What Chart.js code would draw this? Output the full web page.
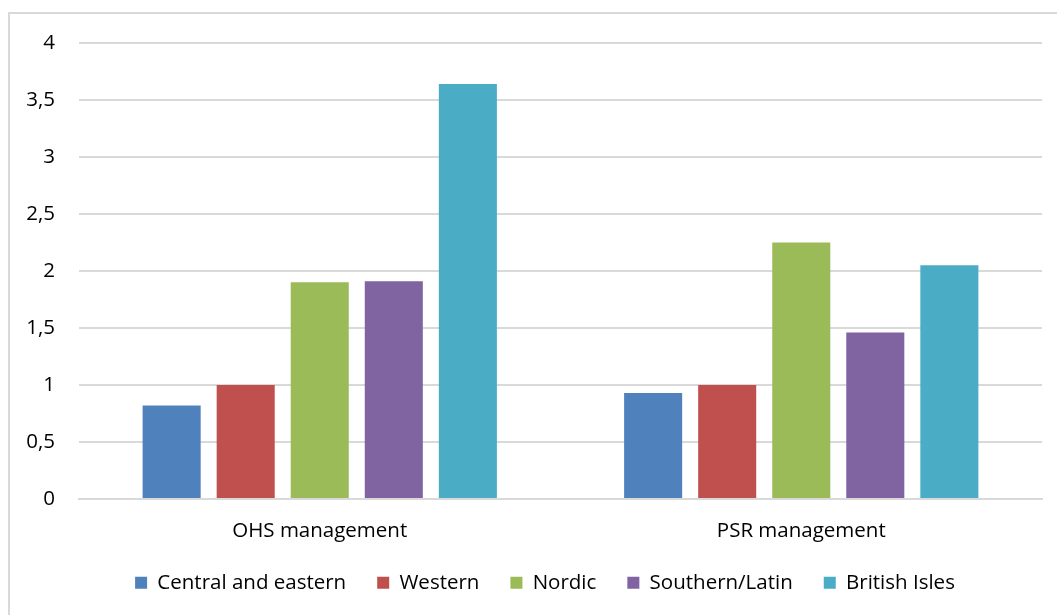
<!DOCTYPE html>
<html>
<head>
<meta charset="utf-8">
<script src="https://cdn.jsdelivr.net/npm/chart.js@4"></script>
<style>
  html, body { margin: 0; padding: 0; background: #fff; overflow: hidden; }
  #frame {
    position: absolute; left: 8px; top: 12px;
    width: 1200px; height: 800px;
    border: 2px solid #d9d9d9; box-sizing: border-box;
  }
  #wrap { position: absolute; left: 0; top: 0; width: 1057px; height: 615px; }
</style>
</head>
<body>
<div id="frame"></div>
<div id="wrap"><canvas id="combined-chart"></canvas></div>
<script>
const categories = ['OHS management', 'PSR management'];
const seriesNames = ['Central and eastern', 'Western', 'Nordic', 'Southern/Latin', 'British Isles'];
const centralEastern = [0.82, 0.93];
const western = [1.0, 1.0];
const nordic = [1.9, 2.25];
const southernLatin = [1.91, 1.46];
const britishIsles = [3.64, 2.05];
const seriesColors = ['#4F81BD', '#C0504D', '#9BBB59', '#8064A2', '#4BACC6'];

const values = [centralEastern, western, nordic, southernLatin, britishIsles];
const fontFamily = '"Open Sans", Lato, sans-serif';

const datasets = seriesNames.map((name, i) => ({
    label: name,
    data: values[i],
    backgroundColor: seriesColors[i],
    borderWidth: 0,
    barPercentage: 0.784,
    categoryPercentage: 0.769
}));

// Legend: keep wide horizontal gaps without the tall box, and centre it under the plot
const legendTweak = {
    id: 'legendTweak',
    beforeInit(chart) {
        const legend = chart.legend;
        const fit = legend.fit;
        legend.fit = function () {
            fit.call(this);
            this.height -= 22;
        };
    },
    afterLayout(chart) {
        chart.legend.left = 48;
        chart.legend.top -= 22;
    }
};

const ctx = document.getElementById('combined-chart').getContext('2d');
new Chart(ctx, {
    type: 'bar',
    data: { labels: categories, datasets: datasets },
    plugins: [legendTweak],
    options: {
        responsive: true,
        maintainAspectRatio: false,
        animation: false,
        layout: { padding: { left: 0, right: 15, top: 43, bottom: 12 } },
        plugins: {
            tooltip: { enabled: false },
            legend: {
                display: true,
                position: 'bottom',
                labels: {
                    color: '#000',
                    boxWidth: 12,
                    boxHeight: 12,
                    padding: 31,
                    font: { family: fontFamily, size: 20.5 }
                }
            }
        },
        scales: {
            x: {
                grid: { display: false, drawTicks: false },
                border: { color: '#d9d9d9', width: 2 },
                ticks: { color: '#000', padding: 20, font: { family: fontFamily, size: 20.5 } }
            },
            y: {
                min: 0,
                max: 4,
                afterFit: scale => { scale.width = 79; },
                grid: { color: '#d9d9d9', lineWidth: 2, drawTicks: false },
                border: { display: false },
                ticks: {
                    stepSize: 0.5,
                    color: '#000',
                    padding: 24,
                    font: { family: fontFamily, size: 20.5 },
                    callback: v => v.toString().replace('.', ',')
                }
            }
        }
    }
});
</script>
</body>
</html>
